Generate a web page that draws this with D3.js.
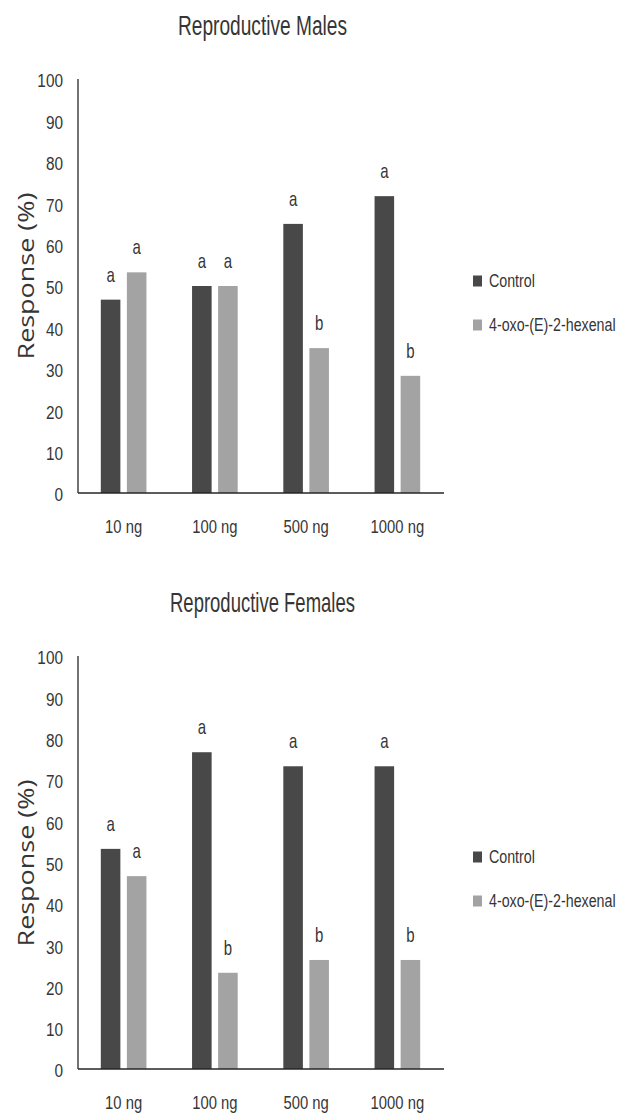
<!DOCTYPE html>
<html>
<head>
<meta charset="utf-8">
<script src="https://cdn.jsdelivr.net/npm/d3@7"></script>
<style>
  html, body { margin: 0; padding: 0; background: #fff; }
  svg { display: block; }
  .narrow { font-family: "Liberation Sans Narrow", "Arial Narrow", "Liberation Sans", Arial, sans-serif; fill: #363636; }
</style>
</head>
<body>
<svg id="chart" width="624" height="1116"></svg>
<script>
// ---- data ----
const categories = ["10 ng", "100 ng", "500 ng", "1000 ng"];
const seriesNames = ["Control", "4-oxo-(E)-2-hexenal"];
const yTicks = [0, 10, 20, 30, 40, 50, 60, 70, 80, 90, 100];

const malesControl = [46.7, 50, 65, 71.7];
const malesTreatment = [53.3, 50, 35, 28.3];
const malesControlLetters = ["a", "a", "a", "a"];
const malesTreatmentLetters = ["a", "a", "b", "b"];

const femalesControl = [53.3, 76.7, 73.3, 73.3];
const femalesTreatment = [46.7, 23.3, 26.4, 26.4];
const femalesControlLetters = ["a", "a", "a", "a"];
const femalesTreatmentLetters = ["a", "b", "b", "b"];

const titles = ["Reproductive Males", "Reproductive Females"];
const yAxisTitle = "Response (%)";

// ---- style ----
const colors = ["#484848", "#a3a3a3"];
const textColor = "#363636";

const svg = d3.select("#chart");

// horizontally condense text (around its anchor point) to mimic a narrow typeface
function condense(sel, factor) {
  sel.each(function () {
    const ax = +(this.getAttribute("x") || 0);
    const ay = +(this.getAttribute("y") || 0);
    d3.select(this).attr("transform", `translate(${ax},${ay}) scale(${factor},1) translate(${-ax},${-ay})`);
  });
}

function drawChart(cfg) {
  const g = svg.append("g");
  const x0 = d3.scaleBand().domain(categories).range([78, 443]).paddingInner(0.5).paddingOuter(0.25);
  const x1 = d3.scaleBand().domain(seriesNames).range([0, x0.bandwidth()]).paddingInner(0.25);
  const y = d3.scaleLinear().domain([0, 100]).range([cfg.y0, cfg.y100]);

  // title
  const title = g.append("text").attr("class", "narrow")
    .attr("x", 262.5).attr("y", cfg.titleY)
    .attr("text-anchor", "middle")
    .attr("font-size", 28)
    .text(cfg.title);
  condense(title, cfg.titleLen / title.node().getComputedTextLength());

  // y-axis tick labels
  const yAxis = d3.axisLeft(y).tickValues(yTicks).tickSize(0).tickPadding(15);
  const ya = g.append("g").attr("transform", "translate(78,2)").call(yAxis);
  ya.select(".domain").remove();
  ya.attr("font-family", null);
  ya.selectAll("text").attr("class", "narrow").attr("font-size", 18.5).attr("fill", textColor);
  condense(ya.selectAll("text"), 0.83);

  // x axis labels
  const xAxis = d3.axisBottom(x0).tickSize(0).tickPadding(27);
  const xa = g.append("g").attr("transform", `translate(0,${cfg.y0})`).call(xAxis);
  xa.select(".domain").remove();
  xa.attr("font-family", null);
  xa.selectAll("text").attr("class", "narrow").attr("font-size", 18.5).attr("fill", textColor);
  condense(xa.selectAll("text"), 0.8);

  // bars
  const rows = categories.map((c, i) => ({
    cat: c,
    vals: [
      { s: seriesNames[0], v: cfg.control[i], l: cfg.controlLetters[i] },
      { s: seriesNames[1], v: cfg.treatment[i], l: cfg.treatmentLetters[i] }
    ]
  }));
  const grp = g.selectAll(".grp").data(rows).enter().append("g")
    .attr("transform", d => `translate(${x0(d.cat)},0)`);
  grp.selectAll("rect").data(d => d.vals).enter().append("rect")
    .attr("x", d => x1(d.s))
    .attr("width", x1.bandwidth())
    .attr("y", d => y(d.v))
    .attr("height", d => y(0) - y(d.v))
    .attr("fill", (d, i) => colors[i]);
  const lbl = grp.selectAll(".lbl").data(d => d.vals).enter().append("text")
    .attr("class", "narrow")
    .attr("x", d => x1(d.s) + x1.bandwidth() / 2)
    .attr("y", d => y(d.v) - 18)
    .attr("text-anchor", "middle")
    .attr("font-size", 20)
    .text(d => d.l);
  condense(lbl, 0.75);

  // axes lines
  g.append("line").attr("x1", 78).attr("x2", 78).attr("y1", y(100)).attr("y2", y(0))
    .attr("stroke", "#262626").attr("stroke-width", 1.3);
  g.append("line").attr("x1", 78).attr("x2", 444).attr("y1", y(0)).attr("y2", y(0))
    .attr("stroke", "#262626").attr("stroke-width", 1.5);

  // y axis title
  g.append("text")
    .attr("transform", `translate(34,${cfg.yTitleY}) rotate(-90)`)
    .attr("text-anchor", "middle")
    .attr("font-family", "'Open Sans', 'DejaVu Sans', sans-serif")
    .attr("font-size", 21)
    .attr("fill", textColor)
    .attr("textLength", 167).attr("lengthAdjust", "spacingAndGlyphs")
    .text(yAxisTitle);

  // legend
  const lg = g.append("g");
  seriesNames.forEach((s, i) => {
    const cy = y(0) - 212 + i * 44;
    lg.append("rect").attr("x", 473).attr("y", cy - 5.5).attr("width", 9).attr("height", 11).attr("fill", colors[i]);
    const t = lg.append("text").attr("class", "narrow")
      .attr("x", 489).attr("y", cy + 6.5)
      .attr("font-size", 18.5)
      .text(s);
    condense(t, 0.77);
  });
}

drawChart({
  title: titles[0], titleY: 35, titleLen: 169,
  y0: 493, y100: 79, yTitleY: 276,
  control: malesControl, treatment: malesTreatment,
  controlLetters: malesControlLetters, treatmentLetters: malesTreatmentLetters
});
drawChart({
  title: titles[1], titleY: 612, titleLen: 185,
  y0: 1069, y100: 656, yTitleY: 863,
  control: femalesControl, treatment: femalesTreatment,
  controlLetters: femalesControlLetters, treatmentLetters: femalesTreatmentLetters
});
</script>
</body>
</html>
